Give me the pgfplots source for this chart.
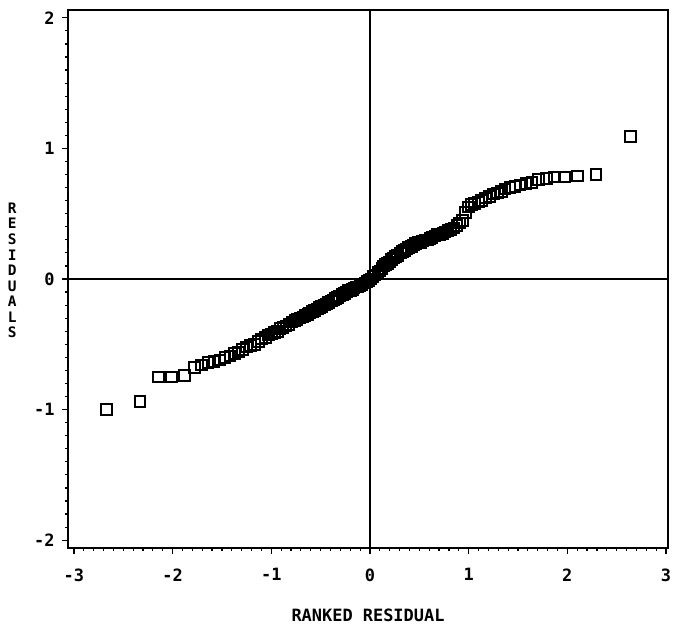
\documentclass[border=0pt]{standalone}
\usepackage{fontspec}
\setmainfont{DejaVu Sans Mono}
\usepackage{pgfplots}
\pgfplotsset{compat=1.18}

\pgfplotstableread{
x y
-2.67 -1.00
-2.33 -0.94
-2.14 -0.75
-2.01 -0.75
-1.88 -0.74
-1.78 -0.68
-1.71 -0.66
-1.64 -0.64
-1.58 -0.63
-1.52 -0.62
-1.47 -0.60
-1.42 -0.59
-1.37 -0.57
-1.33 -0.56
-1.29 -0.54
-1.25 -0.52
-1.21 -0.51
-1.17 -0.50
-1.13 -0.48
-1.10 -0.46
-1.06 -0.45
-1.03 -0.43
-1.00 -0.42
-0.97 -0.41
-0.94 -0.40
-0.91 -0.38
-0.88 -0.37
-0.85 -0.36
-0.82 -0.35
-0.79 -0.33
-0.76 -0.32
-0.74 -0.31
-0.71 -0.30
-0.68 -0.29
-0.66 -0.28
-0.63 -0.27
-0.61 -0.26
-0.58 -0.25
-0.56 -0.24
-0.53 -0.23
-0.51 -0.22
-0.49 -0.21
-0.46 -0.20
-0.44 -0.19
-0.42 -0.18
-0.39 -0.17
-0.37 -0.16
-0.35 -0.15
-0.33 -0.14
-0.31 -0.13
-0.28 -0.12
-0.26 -0.11
-0.24 -0.10
-0.22 -0.09
-0.20 -0.09
-0.18 -0.08
-0.16 -0.07
-0.14 -0.06
-0.12 -0.06
-0.10 -0.05
-0.08 -0.04
-0.05 -0.03
-0.03 -0.02
-0.01 -0.01
0.01 0.00
0.03 0.02
0.05 0.03
0.08 0.05
0.10 0.06
0.12 0.08
0.14 0.10
0.16 0.11
0.18 0.12
0.20 0.13
0.22 0.15
0.24 0.16
0.26 0.17
0.28 0.18
0.31 0.20
0.33 0.21
0.35 0.22
0.37 0.23
0.39 0.24
0.42 0.25
0.44 0.26
0.46 0.27
0.49 0.28
0.51 0.28
0.53 0.29
0.56 0.30
0.58 0.30
0.61 0.31
0.63 0.32
0.66 0.33
0.68 0.34
0.71 0.34
0.74 0.35
0.76 0.36
0.79 0.37
0.82 0.38
0.85 0.39
0.88 0.41
0.91 0.43
0.94 0.45
0.97 0.51
1.00 0.55
1.03 0.57
1.06 0.58
1.10 0.59
1.13 0.60
1.17 0.62
1.21 0.63
1.25 0.65
1.29 0.66
1.33 0.67
1.37 0.69
1.42 0.70
1.47 0.71
1.52 0.72
1.58 0.73
1.64 0.74
1.71 0.76
1.79 0.77
1.87 0.78
1.97 0.78
2.10 0.79
2.29 0.80
2.64 1.09
}\resid

\begin{document}
\begin{tikzpicture}
% page frame: the axis box is 600bp x 538bp with its lower left corner at the origin
\useasboundingbox (-68bp,-81bp) rectangle (605bp,548bp);
\begin{axis}[
  at={(0,0)}, anchor=south west,
  scale only axis, width=600bp, height=538bp,
  xmin=-3.06, xmax=3.02, ymin=-2.06, ymax=2.06,
  axis line style={line width=1.6bp},
  xtick={-3,-2,-1,0,1,2,3}, xticklabels={-3,-2,-1,0,1,2,3},
  ytick={-2,-1,0,1,2}, yticklabels={-2,-1,0,1,2},
  minor tick num=9,
  tick align=outside, tick pos=left,
  major tick length=6bp, minor tick length=3bp,
  every tick/.style={black, line width=1.2bp},
  tick label style={font=\fontsize{17}{17}\selectfont\bfseries},
  xticklabel style={yshift=-11bp},
  yticklabel style={xshift=-4bp},
  xlabel={RANKED RESIDUAL},
  xlabel style={font=\fontsize{17}{17}\selectfont\bfseries,
    at={(axis description cs:0.5,-0.1245)}, anchor=center},
  ylabel={R\\E\\S\\I\\D\\U\\A\\L\\S},
  ylabel style={rotate=-90, align=center,
    font=\fontsize{14.5}{15.6}\selectfont\bfseries,
    at={(axis description cs:-0.093,0.516)}, anchor=center},
]
\addplot[black, line width=1.3bp, forget plot] coordinates {(0,-2.06) (0,2.06)};
\addplot[black, line width=1.3bp, forget plot] coordinates {(-3.06,0) (3.02,0)};
\addplot[only marks, mark=square, mark size=5.3bp,
  mark options={black, line width=2bp}] table {\resid};
\end{axis}
\end{tikzpicture}
\end{document}
